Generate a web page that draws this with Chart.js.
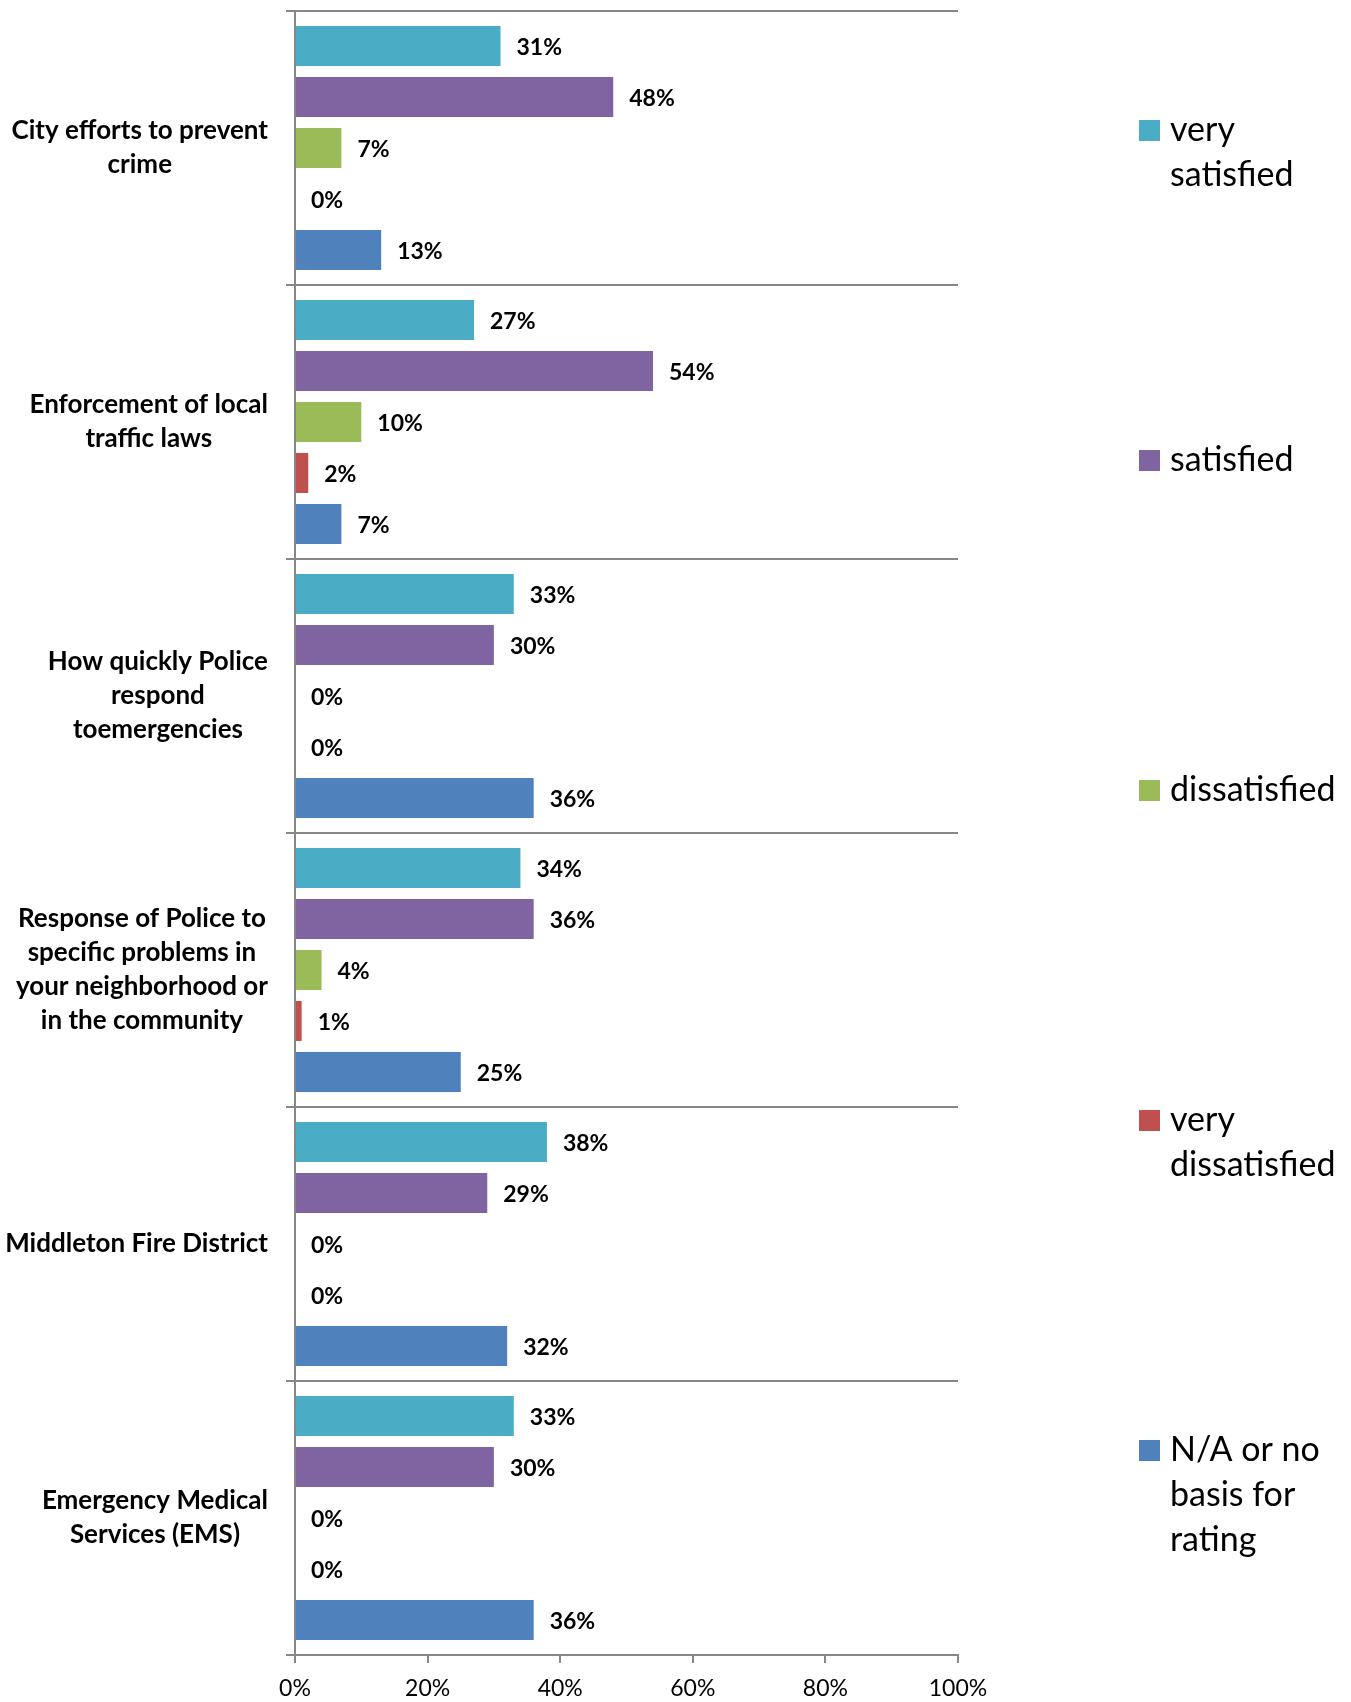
<!DOCTYPE html>
<html><head><meta charset="utf-8">
<script src="https://cdn.jsdelivr.net/npm/chart.js@4"></script>
<style>html,body{margin:0;padding:0;background:#fff;} #wrap{width:1351px;height:1702px;position:relative}</style>
</head><body><div id="wrap"><canvas id="c" width="1351" height="1702"></canvas></div>
<script>
const categories = [
  ['City efforts to prevent', 'crime'],
  ['Enforcement of local', 'traffic laws'],
  ['How quickly Police', 'respond', 'toemergencies'],
  ['Response of Police to', 'specific problems in', 'your neighborhood or', 'in the community'],
  ['Middleton Fire District'],
  ['Emergency Medical', 'Services (EMS)']
];
const seriesLabels = ['very satisfied', 'satisfied', 'dissatisfied', 'very dissatisfied', 'N/A or no basis for rating'];
const verySatisfied    = [31, 27, 33, 34, 38, 33];
const satisfied        = [48, 54, 30, 36, 29, 30];
const dissatisfied     = [7, 10, 0, 4, 0, 0];
const veryDissatisfied = [0, 2, 0, 1, 0, 0];
const notApplicable    = [13, 7, 36, 25, 32, 36];
const xTickValues = [0, 20, 40, 60, 80, 100];

const seriesColors = ['#4BACC6', '#8064A2', '#9BBB59', '#C0504D', '#4F81BD'];
const seriesValues = [verySatisfied, satisfied, dissatisfied, veryDissatisfied, notApplicable];
const FONT = 'Lato';
const GRID = '#878787';

const categoryLabelPlugin = {
  id: 'catLabels',
  afterDraw(chart) {
    const ctx = chart.ctx, ys = chart.scales.y;
    ctx.save();
    ctx.font = 'bold 26px ' + FONT;
    ctx.fillStyle = '#000';
    ctx.textAlign = 'center';
    ctx.textBaseline = 'middle';
    const rightEdge = 268, lineH = 34;
    categories.forEach((lines, i) => {
      const cy = ys.getPixelForValue(i);
      const widest = Math.max(...lines.map(l => ctx.measureText(l).width));
      const cx = rightEdge - widest / 2;
      const y0 = cy - (lines.length - 1) * lineH / 2;
      lines.forEach((l, k) => ctx.fillText(l, cx, y0 + k * lineH));
    });
    ctx.restore();
  }
};

const valueLabelPlugin = {
  id: 'valueLabels',
  afterDatasetsDraw(chart) {
    const ctx = chart.ctx;
    ctx.save();
    ctx.font = 'bold 23px ' + FONT;
    ctx.fillStyle = '#000';
    ctx.textAlign = 'left';
    ctx.textBaseline = 'middle';
    chart.data.datasets.forEach((ds, d) => {
      const meta = chart.getDatasetMeta(d);
      meta.data.forEach((bar, i) => {
        ctx.fillText(ds.data[i] + '%', bar.x + 16, bar.y + 2);
      });
    });
    ctx.restore();
  }
};

const sideLegendPlugin = {
  id: 'sideLegend',
  afterDraw(chart) {
    const ctx = chart.ctx;
    ctx.save();
    ctx.font = '34px ' + FONT;
    ctx.textAlign = 'left';
    ctx.textBaseline = 'middle';
    const mx = 1139, tx = 1170, maxW = 185, lineH = 45, startY = 130, step = 330;
    chart.data.datasets.forEach((ds, d) => {
      const words = ds.label.split(' ');
      const lines = [];
      let cur = '';
      words.forEach(w => {
        const t = cur ? cur + ' ' + w : w;
        if (cur && ctx.measureText(t).width > maxW) { lines.push(cur); cur = w; } else cur = t;
      });
      if (cur) lines.push(cur);
      const y = startY + d * step;
      ctx.fillStyle = ds.backgroundColor;
      ctx.fillRect(mx, y - 10, 21, 21);
      ctx.fillStyle = '#000';
      lines.forEach((l, k) => ctx.fillText(l, tx, y + k * lineH));
    });
    ctx.restore();
  }
};

new Chart(document.getElementById('c'), {
  type: 'bar',
  data: {
    labels: categories,
    datasets: seriesLabels.map((lab, i) => ({
      label: lab,
      data: seriesValues[i],
      backgroundColor: seriesColors[i],
      borderWidth: 0,
      categoryPercentage: 0.93,
      barPercentage: 0.785
    }))
  },
  options: {
    indexAxis: 'y',
    responsive: false,
    animation: false,
    devicePixelRatio: 1,
    layout: { padding: { top: 11, right: 393, left: 0, bottom: 0 } },
    plugins: { legend: { display: false }, tooltip: { enabled: false } },
    scales: {
      y: {
        type: 'category',
        grid: { offset: true, color: GRID, lineWidth: 2, tickLength: 9, drawTicks: true },
        border: { color: GRID, width: 2 },
        ticks: { display: false },
        afterFit(scale) { scale.width = 295; }
      },
      x: {
        type: 'linear',
        min: 0, max: 100,
        afterBuildTicks(scale) { scale.ticks = xTickValues.map(v => ({ value: v })); },
        ticks: { callback: v => v + '%', font: { family: FONT, size: 23 }, color: '#000', padding: 12, maxRotation: 0 },
        grid: { drawOnChartArea: false, drawTicks: true, tickLength: 8, color: GRID, lineWidth: 2 },
        border: { color: GRID, width: 2 },
        afterFit(scale) { scale.height = 47; }
      }
    }
  },
  plugins: [categoryLabelPlugin, valueLabelPlugin, sideLegendPlugin]
});
</script>
</body></html>
